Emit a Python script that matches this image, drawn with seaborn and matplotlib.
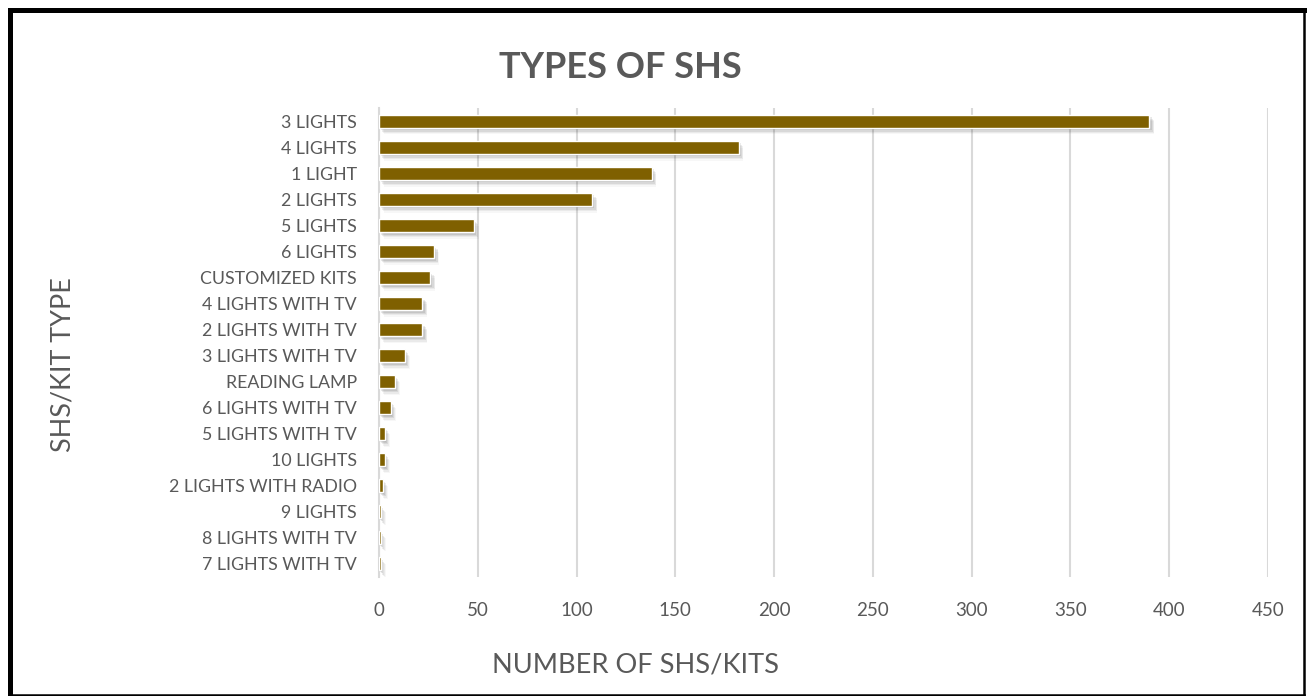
import matplotlib
matplotlib.use("Agg")
import matplotlib.pyplot as plt
import matplotlib.patheffects as pe
from matplotlib.lines import Line2D
import seaborn as sns
import pandas as pd

kit_types = [
    "3 LIGHTS", "4 LIGHTS", "1 LIGHT", "2 LIGHTS", "5 LIGHTS", "6 LIGHTS",
    "CUSTOMIZED KITS", "4 LIGHTS WITH TV", "2 LIGHTS WITH TV",
    "3 LIGHTS WITH TV", "READING LAMP", "6 LIGHTS WITH TV",
    "5 LIGHTS WITH TV", "10 LIGHTS", "2 LIGHTS WITH RADIO", "9 LIGHTS",
    "8 LIGHTS WITH TV", "7 LIGHTS WITH TV",
]
kit_counts = [390, 182, 138, 108, 48, 28, 26, 22, 22, 13, 8, 6, 3, 3, 2, 1, 1, 1]
x_ticks = [0, 50, 100, 150, 200, 250, 300, 350, 400, 450]

df = pd.DataFrame({"kit": kit_types, "count": kit_counts})

sns.set_theme(style="white")
plt.rcParams["font.family"] = ["Lato", "DejaVu Sans"]

TEXT = "#595959"
GRID = "#D9D9D9"
BAR = "#7F6000"

W, H = 1307, 696
fig = plt.figure(figsize=(W / 100, H / 100), dpi=100)
fig.patch.set_facecolor("white")
ax = fig.add_axes([379 / W, 1 - 577 / H, (1268 - 379) / W, (577 - 108) / H])

sns.barplot(data=df, x="count", y="kit", orient="h", color=BAR,
            width=0.5, saturation=1, ax=ax, zorder=3)

# soft drop shadow built from several faint offset copies
shadow = [
    pe.SimplePatchShadow(offset=off, shadow_rgbFace="#000000", alpha=a)
    for off, a in [((0.5, -1), 0.10), ((1.5, -2), 0.09), ((2.5, -3), 0.07),
                   ((3, -4), 0.05), ((3.5, -5), 0.03)]
]
for patch in ax.patches:
    patch.set_path_effects(shadow + [pe.Normal()])

ax.set_xlim(0, 450)
ax.set_xticks(x_ticks)
ax.set_xticklabels([str(t) for t in x_ticks])
ax.grid(axis="x", color=GRID, linewidth=1.5, zorder=0)
ax.grid(axis="y", visible=False)
for s in ("top", "right", "bottom"):
    ax.spines[s].set_visible(False)
ax.spines["left"].set_color(GRID)
ax.spines["left"].set_linewidth(1.5)
ax.tick_params(axis="y", length=0, pad=16, labelsize=12.8, labelcolor=TEXT)
ax.tick_params(axis="x", length=0, pad=18, labelsize=13.5, labelcolor=TEXT)
ax.set_xlabel("")
ax.set_ylabel("")

fig.text(620 / W, 1 - 68 / H, "TYPES OF SHS", ha="center", va="center",
         fontsize=26, fontweight="bold", color=TEXT)
fig.text(635 / W, 1 - 665 / H, "NUMBER OF SHS/KITS", ha="center", va="center",
         fontsize=19.6, color=TEXT)
fig.text(63 / W, 1 - 365 / H, "SHS/KIT TYPE", ha="center", va="center",
         rotation=90, fontsize=19.4, color=TEXT)

# outer frame
def frame_line(x0, y0, x1, y1, lw):
    fig.add_artist(Line2D([x0 / W, x1 / W], [1 - y0 / H, 1 - y1 / H],
                          transform=fig.transFigure, color="black",
                          linewidth=lw, solid_capstyle="projecting"))

frame_line(9.5, 9.5, 1304, 9.5, 3.6)
frame_line(9.5, 9.5, 9.5, 694.5, 3.6)
frame_line(1304, 9.5, 1304, 694.5, 1.8)
frame_line(9.5, 694.5, 1304, 694.5, 1.8)

fig.savefig("out.png", dpi=100)
